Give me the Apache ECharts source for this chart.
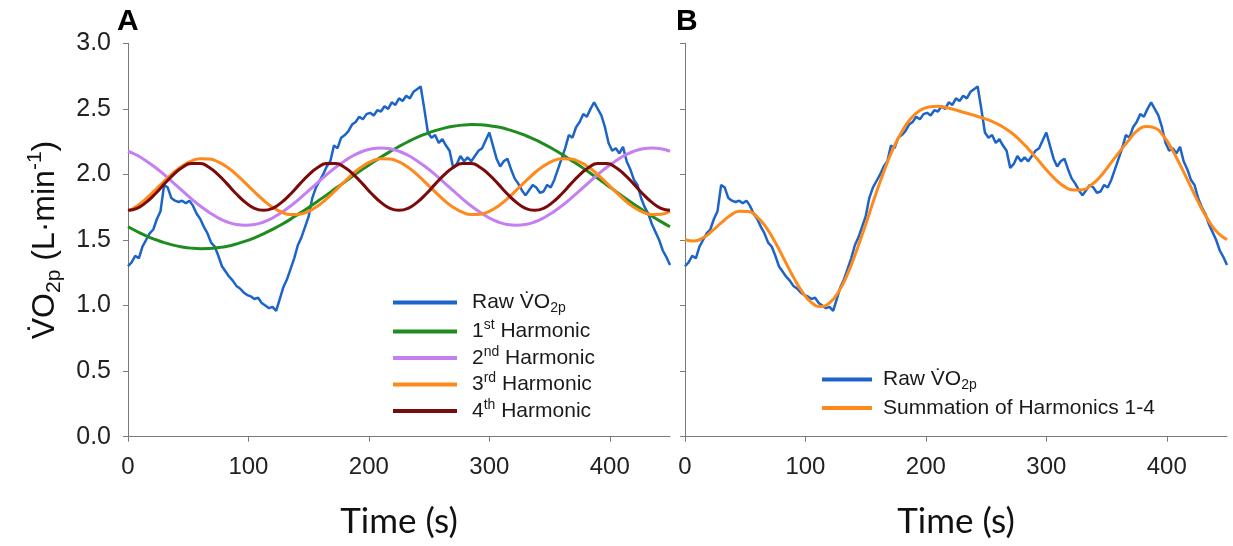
<!DOCTYPE html>
<html><head><meta charset="utf-8">
<script src="https://cdn.jsdelivr.net/npm/echarts@6/dist/echarts.min.js"></script>
<style>html,body{margin:0;padding:0;background:#fff}#c{width:1233px;height:546px}</style>
</head><body><div id="c"></div>
<script>
// ---- data ----
const xTicks = [0, 100, 200, 300, 400];
const rawStep = 3; // s between raw samples
const rawVO2 = [
1.30,1.33,1.38,1.36,1.45,1.50,1.55,1.58,1.66,1.72,
1.92,1.90,1.82,1.80,1.79,1.80,1.78,1.80,1.76,1.70,
1.66,1.60,1.55,1.48,1.45,1.38,1.30,1.26,1.22,1.19,
1.15,1.13,1.10,1.08,1.07,1.05,1.06,1.02,1.00,0.98,
0.99,0.96,1.05,1.14,1.20,1.28,1.36,1.46,1.52,1.60,
1.68,1.82,1.90,1.95,2.00,2.06,2.10,2.22,2.20,2.28,
2.30,2.33,2.38,2.40,2.44,2.42,2.46,2.47,2.45,2.49,
2.48,2.52,2.50,2.55,2.53,2.58,2.56,2.60,2.58,2.63,
2.65,2.67,2.50,2.32,2.28,2.30,2.24,2.27,2.22,2.18,
2.05,2.08,2.14,2.10,2.13,2.10,2.14,2.18,2.20,2.26,
2.32,2.22,2.12,2.06,2.10,2.12,2.04,1.97,1.93,1.88,
1.84,1.88,1.92,1.90,1.86,1.87,1.92,1.90,1.96,2.04,
2.12,2.20,2.30,2.28,2.36,2.40,2.46,2.44,2.50,2.55,
2.50,2.45,2.36,2.24,2.18,2.20,2.16,2.21,2.10,2.04,
1.96,1.92,1.82,1.75,1.70,1.62,1.56,1.50,1.42,1.37,
1.31
];
const harmStep = 7.5; // s between harmonic samples
const harm1 = [1.601,1.565,1.532,1.504,1.480,1.461,1.447,1.438,1.434,1.435,
1.442,1.453,1.470,1.491,1.517,1.547,1.581,1.618,1.659,1.703,
1.748,1.796,1.844,1.894,1.943,1.993,2.041,2.087,2.132,2.174,
2.213,2.249,2.282,2.310,2.334,2.353,2.367,2.376,2.380,2.379,
2.372,2.361,2.344,2.323,2.297,2.267,2.233,2.196,2.155,2.111,
2.066,2.018,1.970,1.920,1.871,1.821,1.773,1.727,1.682,1.640,1.601];
const harm2 = [2.177,2.146,2.104,2.055,1.998,1.938,1.876,1.816,1.759,1.710,
1.668,1.637,1.618,1.612,1.618,1.637,1.668,1.710,1.759,1.816,
1.876,1.938,1.998,2.055,2.104,2.146,2.177,2.196,2.202,2.196,
2.177,2.146,2.104,2.055,1.998,1.938,1.876,1.816,1.759,1.710,
1.668,1.637,1.618,1.612,1.618,1.637,1.668,1.710,1.759,1.816,
1.876,1.938,1.998,2.055,2.104,2.146,2.177,2.196,2.202,2.196,2.177];
const harm3 = [1.719,1.760,1.815,1.880,1.947,2.011,2.064,2.102,2.120,2.118,
2.095,2.054,1.999,1.934,1.867,1.803,1.750,1.712,1.694,1.696,
1.719,1.760,1.815,1.880,1.947,2.011,2.064,2.102,2.120,2.118,
2.095,2.054,1.999,1.934,1.867,1.803,1.750,1.712,1.694,1.696,
1.719,1.760,1.815,1.880,1.947,2.011,2.064,2.102,2.120,2.118,
2.095,2.054,1.999,1.934,1.867,1.803,1.750,1.712,1.694,1.696,1.719];
const harm4 = [1.727,1.742,1.787,1.851,1.926,1.997,2.053,2.083,2.083,2.053,
1.997,1.926,1.851,1.787,1.742,1.727,1.742,1.787,1.851,1.926,
1.997,2.053,2.083,2.083,2.053,1.997,1.926,1.851,1.787,1.742,
1.727,1.742,1.787,1.851,1.926,1.997,2.053,2.083,2.083,2.053,
1.997,1.926,1.851,1.787,1.742,1.727,1.742,1.787,1.851,1.926,
1.997,2.053,2.083,2.083,2.053,1.997,1.926,1.851,1.787,1.742,1.727];
const harmSum = [1.503,1.492,1.517,1.569,1.630,1.686,1.719,1.718,1.675,1.595,
1.481,1.349,1.217,1.103,1.023,0.993,1.020,1.106,1.242,1.420,
1.619,1.826,2.019,2.191,2.326,2.426,2.487,2.515,2.520,2.509,
2.491,2.470,2.451,2.429,2.404,2.370,2.325,2.266,2.195,2.117,
2.035,1.963,1.907,1.881,1.883,1.921,1.986,2.074,2.164,2.250,
2.330,2.365,2.355,2.290,2.180,2.046,1.905,1.765,1.644,1.553,1.503];

// ---- build ----
const pairs = (arr, step) => arr.map((v, i) => [i * step, v]);
const C = {raw:'#1C64C8', h1:'#1E8C1E', h2:'#C47FF2', h3:'#FF8A1C', h4:'#7B0A0A'};
const FONT = 'Liberation Sans, Arial, sans-serif';
const labels = {
  rawA: '{g| }{t|Raw V\u0307O}{sub|2p}',
  h1: '{g| }{t|1}{sup|st}{t| Harmonic}',
  h2: '{g| }{t|2}{sup|nd}{t| Harmonic}',
  h3: '{g| }{t|3}{sup|rd}{t| Harmonic}',
  h4: '{g| }{t|4}{sup|th}{t| Harmonic}',
  rawB: '{g| }{t|Raw V\u0307O}{sub|2p}',
  sum: '{g| }{t|Summation of Harmonics 1-4}'
};
function legRich(gap) {
  return {
    g: {width: gap},
    t: {fontSize: 21, fontFamily: FONT, color: '#1a1a1a', lineHeight: 26},
    sub: {fontSize: 14, fontFamily: FONT, color: '#1a1a1a', verticalAlign: 'bottom'},
    sup: {fontSize: 14, fontFamily: FONT, color: '#1a1a1a', verticalAlign: 'top'}
  };
}
const axisCol = '#7a7a7a';
function xAx(g, name) {
  return {
    gridIndex: g, type: 'value', min: 0, max: 450, interval: 100,
    name: name, nameLocation: 'middle', nameGap: 68,
    nameTextStyle: {fontFamily: 'Lato, sans-serif', fontSize: 35, color: '#111'},
    axisLine: {show: true, lineStyle: {color: axisCol, width: 1}},
    axisTick: {show: true, length: 5, lineStyle: {color: axisCol}, customValues: xTicks},
    axisLabel: {fontSize: 24, fontFamily: FONT, color: '#222', margin: 19, customValues: xTicks},
    splitLine: {show: false}
  };
}
function yAx(g, showLab) {
  return {
    gridIndex: g, type: 'value', min: 0, max: 3, interval: 0.5,
    name: showLab ? '{n|V\u0307O}{sub|2p}{n| (L\u00b7min}{sup|-1}{n|)}' : '',
    nameLocation: 'middle', nameGap: 63, nameRotate: 90,
    nameTextStyle: {rich: {
      n: {fontSize: 32, fontFamily: FONT, color: '#111', lineHeight: 40},
      sub: {fontSize: 21, fontFamily: FONT, color: '#111', verticalAlign: 'bottom'},
      sup: {fontSize: 21, fontFamily: FONT, color: '#111', verticalAlign: 'top'}
    }},
    axisLine: {show: true, lineStyle: {color: axisCol, width: 1}},
    axisTick: {show: true, length: 5, lineStyle: {color: axisCol}},
    axisLabel: {show: showLab, fontSize: 25, fontFamily: FONT, color: '#222', margin: 17,
      formatter: v => v.toFixed(1)},
    splitLine: {show: false}
  };
}
function ln(name, data, step, color, xi, smooth, w) {
  return {name, type: 'line', xAxisIndex: xi, yAxisIndex: xi, data: pairs(data, step),
    symbol: 'none', smooth: smooth, lineStyle: {color, width: w}, itemStyle: {color},
    silent: true, animation: false};
}
const option = {
  backgroundColor: '#fff',
  animation: false,
  grid: [
    {left: 128, top: 43.3, width: 542, height: 393.4},
    {left: 685, top: 43.3, width: 542, height: 393.4}
  ],
  xAxis: [xAx(0, 'Time (s)'), xAx(1, 'Time (s)')],
  yAxis: [yAx(0, true), yAx(1, false)],
  legend: [
    {data: ['rawA','h1','h2','h3','h4'], orient: 'vertical', left: 393, top: 292, padding: 0,
      icon: 'rect', itemWidth: 64, itemHeight: 4, itemGap: 3, selectedMode: false,
      formatter: n => labels[n], textStyle: {rich: legRich(10)}},
    {data: ['rawB','sum'], orient: 'vertical', left: 822, top: 369, padding: 0,
      icon: 'rect', itemWidth: 50, itemHeight: 4, itemGap: 5, selectedMode: false,
      formatter: n => labels[n], textStyle: {rich: legRich(6)}}
  ],
  graphic: [
    {type: 'text', left: 117, top: 7, style: {text: 'A', font: 'bold 30px Liberation Sans, Arial', fill: '#000'}},
    {type: 'text', left: 676, top: 7, style: {text: 'B', font: 'bold 30px Liberation Sans, Arial', fill: '#000'}}
  ],
  series: [
    ln('rawA', rawVO2, rawStep, C.raw, 0, false, 2.5),
    ln('h1', harm1, harmStep, C.h1, 0, true, 3),
    ln('h2', harm2, harmStep, C.h2, 0, true, 3),
    ln('h3', harm3, harmStep, C.h3, 0, true, 3),
    ln('h4', harm4, harmStep, C.h4, 0, true, 3),
    ln('rawB', rawVO2, rawStep, C.raw, 1, false, 2.5),
    ln('sum', harmSum, harmStep, C.h3, 1, true, 3)
  ]
};
const chart = echarts.init(document.getElementById('c'), null, {renderer: 'canvas'});
chart.setOption(option);
</script></body></html>
